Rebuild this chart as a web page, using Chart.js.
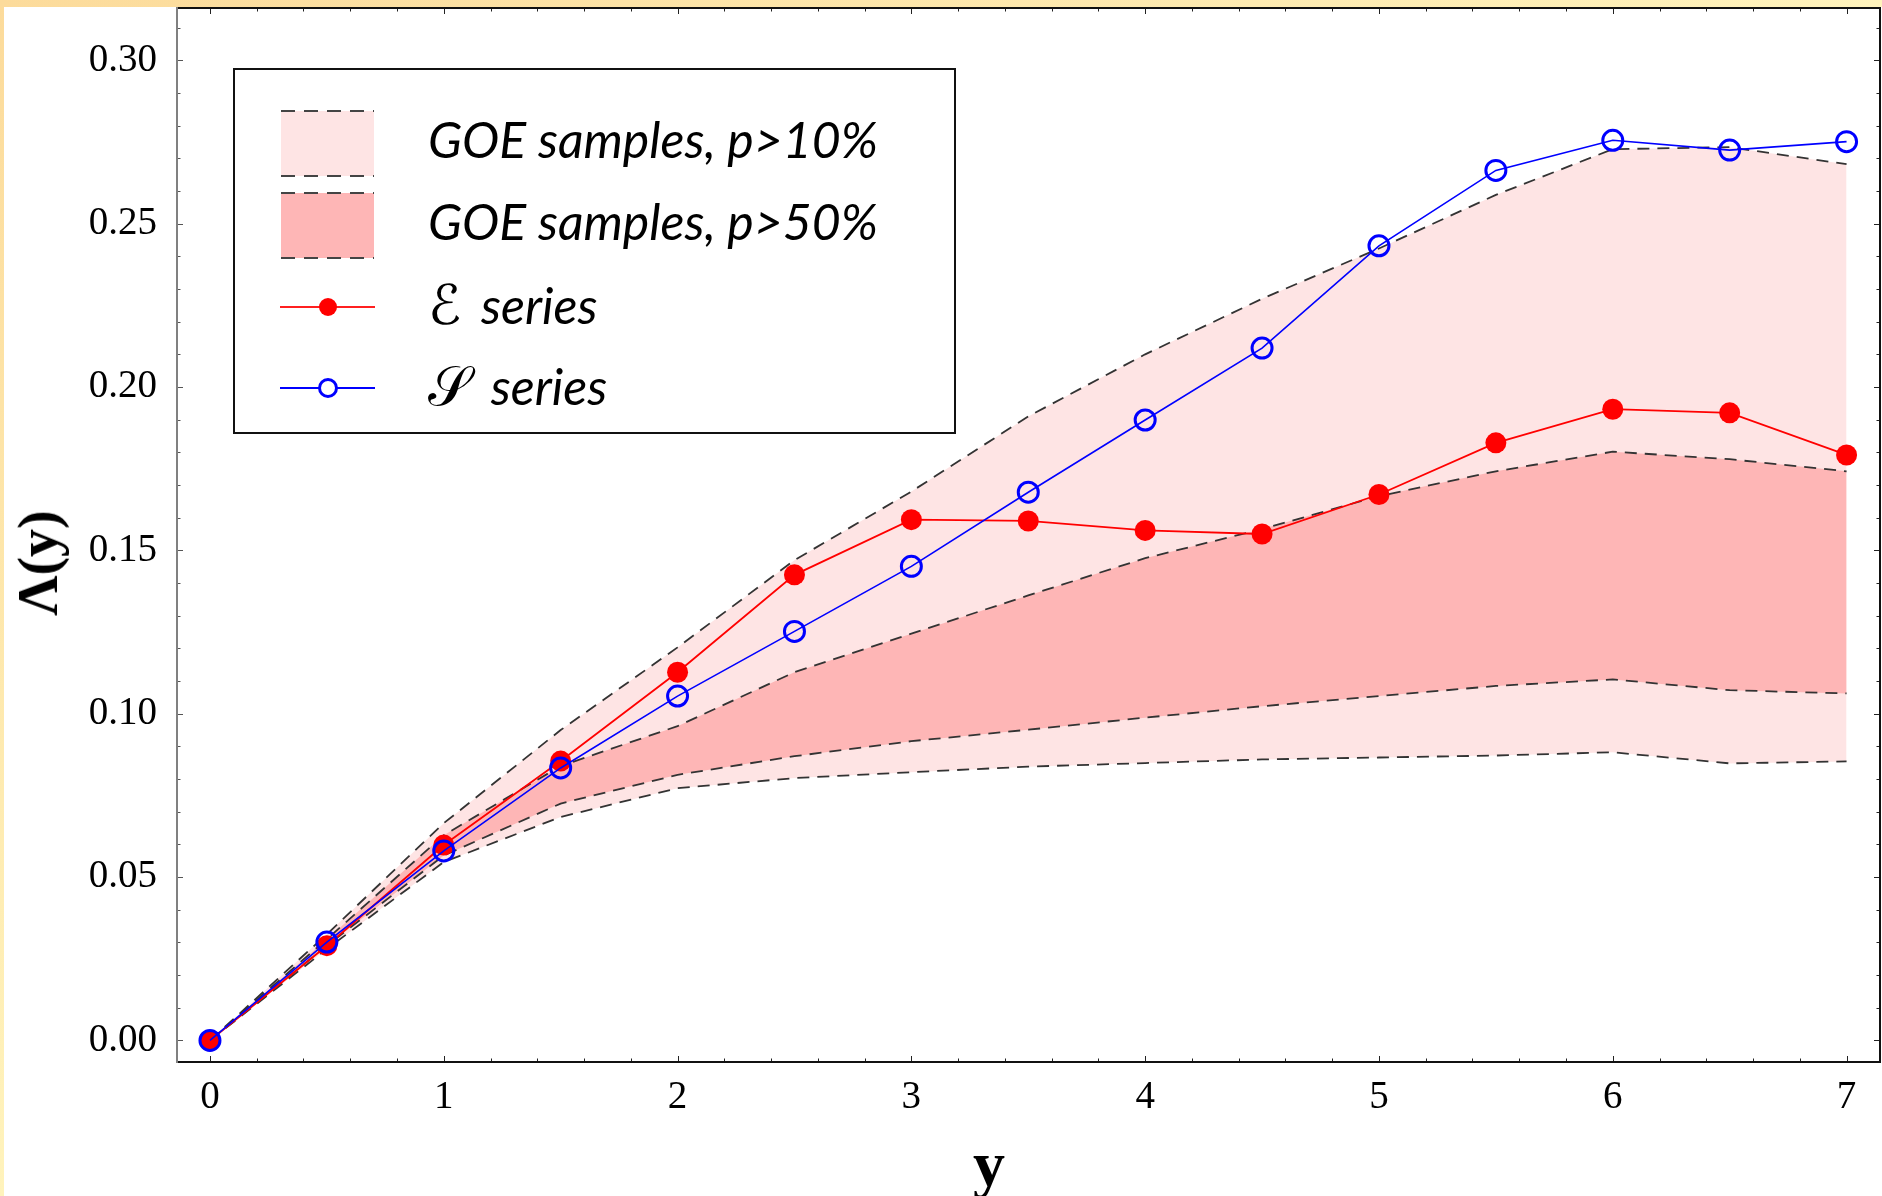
<!DOCTYPE html>
<html lang="en">
<head>
<meta charset="UTF-8">
<title>Λ(y)</title>
<style>
  html, body { margin: 0; padding: 0; background: #fff; }
  #wrap { position: relative; width: 1882px; height: 1196px; overflow: hidden; background: #fff; }
  #topStrip { position: absolute; left: 0; top: 0; width: 1882px; height: 7px; background: linear-gradient(to right, #fcdb9b, #fff3bc); }
  #leftStrip { position: absolute; left: 0; top: 0; width: 4px; height: 1196px; background: linear-gradient(to bottom, #fcdb9b, #fff3bc); }
  #chart { position: absolute; left: 0; top: 0; }
  .legendBox { position: absolute; left: 233px; top: 68px; width: 719px; height: 362px; border: 2px solid #111; background: #fff; }
  .legendKeys { position: absolute; left: 0; top: 0; }
  .legendText { position: absolute; left: 428px; font-family: Lato, "Open Sans", sans-serif; font-style: italic; font-size: 50px; line-height: 1; white-space: nowrap; color: #000; }
  .script { font-family: "DejaVu Serif", "DejaVu Sans", serif; font-style: normal; font-size: 1.1em; margin-right: 8px; }
  .axisTitle { position: absolute; font-family: "Liberation Serif", "DejaVu Serif", serif; font-weight: bold; line-height: 1; white-space: nowrap; color: #000; }
</style>
</head>
<body>
<div id="wrap">
  <canvas id="chart" width="1882" height="1196"></canvas>
  <div id="topStrip"></div>
  <div id="leftStrip"></div>

  <div class="legendBox"></div>
  <svg class="legendKeys" width="1000" height="460">
    <rect x="281" y="111" width="93" height="65" fill="#fee4e4"/>
    <rect x="281" y="193" width="93" height="65" fill="#feb6b6"/>
    <g stroke="#444" stroke-width="2" stroke-dasharray="14 9">
      <line x1="281" y1="111" x2="374" y2="111"/>
      <line x1="281" y1="176" x2="374" y2="176"/>
      <line x1="281" y1="193" x2="374" y2="193"/>
      <line x1="281" y1="258" x2="374" y2="258"/>
    </g>
    <line x1="280" y1="307" x2="375" y2="307" stroke="#ff2020" stroke-width="2"/>
    <circle cx="328" cy="307" r="9" fill="#ff0000"/>
    <line x1="280" y1="388" x2="375" y2="388" stroke="#0000ff" stroke-width="2"/>
    <circle cx="328" cy="388" r="8.5" fill="#fff" stroke="#0000ff" stroke-width="3"/>
  </svg>
  <div class="legendText" style="top:114px">GOE samples, p&gt;10%</div>
  <div class="legendText" style="top:196px">GOE samples, p&gt;50%</div>
  <div class="legendText" style="top:278px"><span class="script">ℰ</span> series</div>
  <div class="legendText" style="top:359px"><span class="script">𝒮</span> series</div>

  <div class="axisTitle" style="left:989px; top:1132px; font-size:64px; transform:translateX(-50%)">y</div>
  <div class="axisTitle" style="left:37.5px; top:563px; font-size:56px; transform:translate(-50%,-50%) rotate(-90deg)">Λ(y)</div>
</div>

<script src="https://cdn.jsdelivr.net/npm/chart.js"></script>
<script>
// x positions of the samples
const yValues = [0, 0.5, 1, 1.5, 2, 2.5, 3, 3.5, 4, 4.5, 5, 5.5, 6, 6.5, 7];

// E series (red filled) and S series (blue open)
const eSeries = [0, 0.0290, 0.0598, 0.0855, 0.1127, 0.1425, 0.1594, 0.1590, 0.1561, 0.1550, 0.1671, 0.1829, 0.1932, 0.1921, 0.1792];
const sSeries = [0, 0.0301, 0.0580, 0.0834, 0.1054, 0.1252, 0.1451, 0.1678, 0.1899, 0.2119, 0.2432, 0.2663, 0.2755, 0.2725, 0.2751];

// GOE bands
const p10High = [0, 0.0325, 0.0665, 0.0950, 0.1203, 0.1470, 0.1680, 0.1910, 0.2100, 0.2270, 0.2424, 0.2588, 0.2728, 0.2734, 0.2682];
const p50High = [0, 0.0310, 0.0628, 0.0840, 0.0962, 0.1127, 0.1245, 0.1362, 0.1476, 0.1565, 0.1666, 0.1742, 0.1802, 0.1779, 0.1742];
const p50Low  = [0, 0.0290, 0.0566, 0.0725, 0.0813, 0.0870, 0.0916, 0.0951, 0.0988, 0.1023, 0.1054, 0.1085, 0.1105, 0.1072, 0.1062];
const p10Low  = [0, 0.0280, 0.0546, 0.0684, 0.0772, 0.0803, 0.0821, 0.0838, 0.0849, 0.0860, 0.0866, 0.0872, 0.0882, 0.0848, 0.0854];

// tick labels
const xTicks = [0, 1, 2, 3, 4, 5, 6, 7];
const yTicks = [0, 0.05, 0.10, 0.15, 0.20, 0.25, 0.30];

function pts(vals) {
  return yValues.map((x, i) => ({ x: x, y: vals[i] }));
}

function band(vals, fillTo, color) {
  return {
    data: pts(vals),
    borderColor: '#333',
    borderWidth: 1.8,
    borderDash: [12, 8],
    pointRadius: 0,
    tension: 0,
    fill: fillTo,
    backgroundColor: color
  };
}

// ticks pointing inward on all four sides + the frame
const framePlugin = {
  id: 'frame',
  afterDraw(chart) {
    const { ctx, chartArea: a, scales } = chart;
    const x = scales.x, y = scales.y;
    ctx.save();
    ctx.lineWidth = 1;
    for (let i = 0; i <= 35; i++) {
      const px = Math.round(x.getPixelForValue(i / 5)) + 0.5;
      const len = i % 5 === 0 ? 6 : 3.5;
      ctx.strokeStyle = '#222';
      ctx.beginPath();
      ctx.moveTo(px, a.bottom); ctx.lineTo(px, a.bottom - len);
      ctx.moveTo(px, a.top); ctx.lineTo(px, a.top + len);
      ctx.stroke();
    }
    for (let i = 0; i <= 31; i++) {
      const py = Math.round(y.getPixelForValue(i / 100)) + 0.5;
      const len = i % 5 === 0 ? 6 : 3.5;
      ctx.strokeStyle = '#555';
      ctx.beginPath();
      ctx.moveTo(a.left, py); ctx.lineTo(a.left + len, py);
      ctx.stroke();
      ctx.strokeStyle = '#222';
      ctx.beginPath();
      ctx.moveTo(a.right, py); ctx.lineTo(a.right - len, py);
      ctx.stroke();
    }
    ctx.lineWidth = 2;
    ctx.strokeStyle = '#111';
    ctx.beginPath();
    ctx.moveTo(a.left, a.top); ctx.lineTo(a.right, a.top);
    ctx.lineTo(a.right, a.bottom); ctx.lineTo(a.left, a.bottom);
    ctx.stroke();
    ctx.strokeStyle = '#808080';
    ctx.beginPath();
    ctx.moveTo(a.left, a.top - 1); ctx.lineTo(a.left, a.bottom + 1);
    ctx.stroke();
    ctx.restore();
  }
};

const tickFont = { family: '"Liberation Serif", "DejaVu Serif", serif', size: 39 };

new Chart(document.getElementById('chart'), {
  type: 'line',
  data: {
    datasets: [
      {
        label: 'S series',
        data: pts(sSeries),
        borderColor: '#0000ff',
        borderWidth: 1.6,
        pointRadius: 10,
        pointBorderWidth: 3,
        pointBorderColor: '#0000ff',
        pointBackgroundColor: 'rgba(0,0,0,0)',
        tension: 0,
        fill: false
      },
      {
        label: 'E series',
        data: pts(eSeries),
        borderColor: '#ff0000',
        borderWidth: 1.8,
        pointRadius: 10.5,
        pointBorderWidth: 0,
        pointBackgroundColor: '#ff0000',
        tension: 0,
        fill: false
      },
      band(p50High, 3, '#feb6b6'),
      band(p50Low, false, 'transparent'),
      band(p10High, 5, '#fee4e4'),
      band(p10Low, false, 'transparent')
    ]
  },
  options: {
    responsive: false,
    animation: false,
    events: [],
    layout: { autoPadding: false, padding: { top: 8, right: 2, left: 0, bottom: 0 } },
    plugins: {
      legend: { display: false },
      tooltip: { enabled: false },
      filler: { drawTime: 'beforeDatasetsDraw' }
    },
    scales: {
      x: {
        type: 'linear',
        min: -0.141,
        max: 7.143,
        grid: { display: false },
        border: { display: false },
        afterBuildTicks: s => { s.ticks = xTicks.map(v => ({ value: v })); },
        afterFit: s => { s.height = 134; s.paddingLeft = 0; s.paddingRight = 0; },
        ticks: { font: tickFont, color: '#000', padding: 4, maxRotation: 0, autoSkip: false, callback: v => String(v) }
      },
      y: {
        type: 'linear',
        min: -0.0066,
        max: 0.316,
        grid: { display: false },
        border: { display: false },
        afterBuildTicks: s => { s.ticks = yTicks.map(v => ({ value: v })); },
        afterFit: s => { s.width = 177; s.paddingTop = 0; s.paddingBottom = 0; },
        ticks: { font: tickFont, color: '#000', padding: 12, autoSkip: false, callback: v => v.toFixed(2) }
      }
    }
  },
  plugins: [framePlugin]
});
</script>
</body>
</html>
